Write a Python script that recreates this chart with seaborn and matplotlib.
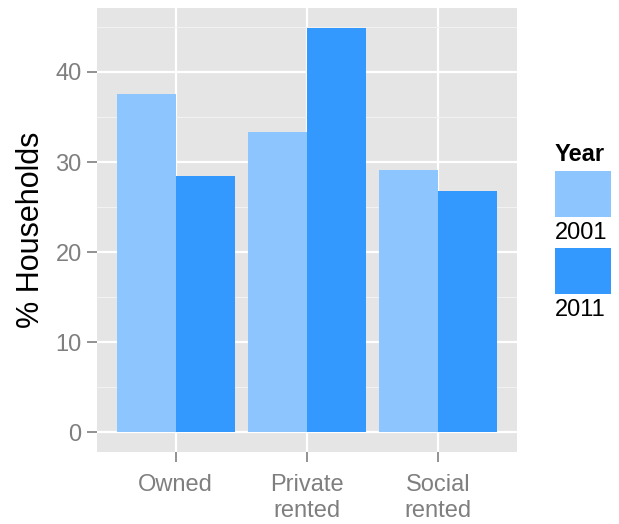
import pandas as pd
import seaborn as sns
import matplotlib.pyplot as plt
from matplotlib.patches import Rectangle
from matplotlib.ticker import MultipleLocator

# data
tenure = ['Owned', 'Private\nrented', 'Social\nrented']
years = ['2001', '2011']
pct_2001 = [37.5, 33.3, 29.1]
pct_2011 = [28.4, 44.9, 26.8]
colours = ['#8DC6FF', '#3399FF']

df = pd.DataFrame({
    'Tenure': tenure * 2,
    'Year': [years[0]] * 3 + [years[1]] * 3,
    'Pct': pct_2001 + pct_2011,
})

plt.rcParams['font.family'] = ['Liberation Sans', 'DejaVu Sans']

fig = plt.figure(figsize=(6.19, 5.24), dpi=100)
ax = fig.add_axes([97 / 619, 1 - 452 / 524, 420 / 619, 444 / 524])

sns.barplot(data=df, x='Tenure', y='Pct', hue='Year', hue_order=years,
            palette=colours, width=0.9, linewidth=0, saturation=1,
            legend=False, ax=ax)

ax.set_facecolor('#E5E5E5')
ax.set_axisbelow(True)
for s in ax.spines.values():
    s.set_visible(False)
ax.set_xlim(-0.6, 2.6)
ax.set_ylim(-2.2, 47.1)
ax.yaxis.set_major_locator(MultipleLocator(10))
ax.yaxis.set_minor_locator(MultipleLocator(5))
ax.grid(which='major', color='white', linewidth=1.6)
ax.grid(which='minor', axis='y', color='#F2F2F2', linewidth=0.8)
ax.tick_params(which='minor', length=0)
ax.tick_params(which='major', length=7, width=1.2, color='#7F7F7F',
               labelcolor='#7F7F7F', labelsize=17)
ax.tick_params(axis='y', pad=4)
ax.tick_params(axis='x', pad=9)
for lbl in ax.get_xticklabels():
    lbl.set_linespacing(1.2)
ax.set_xlabel('')
ax.set_ylabel('% Households', fontsize=22, color='black', labelpad=7)

# legend drawn below-label style like the original
fig.text(555 / 619, 1 - 143 / 524, 'Year', fontsize=17, fontweight='bold',
         ha='left', va='top')
key_tops = [171, 248]
for yr, col, top in zip(years, colours, key_tops):
    fig.patches.append(Rectangle((555 / 619, 1 - (top + 46) / 524), 56 / 619, 46 / 524,
                                 transform=fig.transFigure, facecolor=col,
                                 edgecolor='none'))
    fig.text(555 / 619, 1 - (top + 51) / 524, yr, fontsize=17, ha='left', va='top')

fig.savefig('out.png', dpi=100)
